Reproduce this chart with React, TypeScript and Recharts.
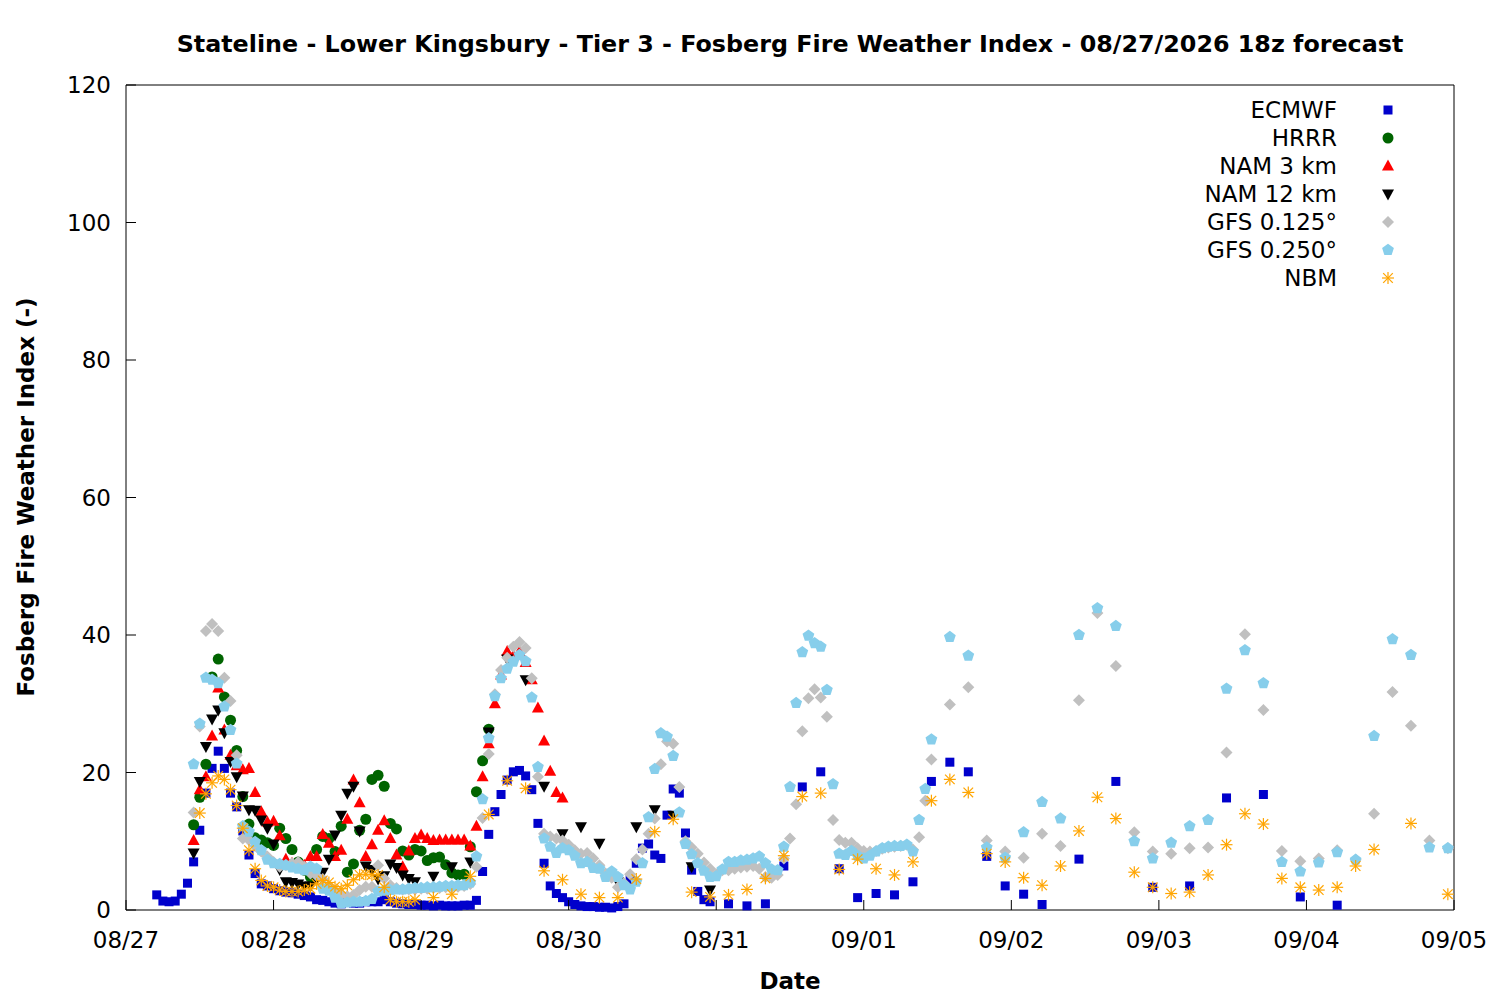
import React from "react";
import { ScatterChart, Scatter, XAxis, YAxis } from "recharts";

// hours counted from 08/27 00 local, value = Fosberg index
const dayLabels = ["08/27", "08/28", "08/29", "08/30", "08/31", "09/01", "09/02", "09/03", "09/04", "09/05"];
const xTicks = dayLabels.map((_, i) => i * 24);
const yTicks = [0, 20, 40, 60, 80, 100, 120];

const ecmwf: [number, number][] = [
	[5, 2.2], [6, 1.3], [7, 1.2], [8, 1.3], [9, 2.3], [10, 3.9], [11, 7.0], [12, 11.6], [13, 17.0], [14, 20.6],
	[15, 23.1], [16, 20.6], [17, 17.0], [18, 15.0], [19, 11.5], [20, 8.0], [21, 5.3], [22, 3.8], [23, 3.5], [24, 3.1],
	[25, 2.8], [26, 2.6], [27, 2.5], [28, 2.3], [29, 2.1], [30, 1.9], [31, 1.5], [32, 1.4], [33, 1.2], [34, 1.0],
	[35, 0.9], [36, 1.1], [37, 1.0], [38, 1.0], [39, 1.2], [40, 1.2], [41, 1.2], [42, 1.5], [43, 1.2], [44, 1.0],
	[45, 0.9], [46, 0.8], [47, 0.8], [48, 0.7], [49, 0.7], [50, 0.6], [51, 0.7], [52, 0.6], [53, 0.6], [54, 0.6],
	[55, 0.7], [56, 0.7], [57, 1.4], [58, 5.6], [59, 11.0], [60, 14.3], [61, 16.8], [62, 18.9], [63, 20.1], [64, 20.3],
	[65, 19.5], [66, 17.5], [67, 12.6], [68, 6.8], [69, 3.5], [70, 2.4], [71, 1.8], [72, 1.2], [73, 0.8], [74, 0.6],
	[75, 0.5], [76, 0.5], [77, 0.4], [78, 0.4], [79, 0.3], [80, 0.5], [81, 0.9], [82, 4.4], [83, 6.8], [84, 9.0],
	[85, 9.6], [86, 8.0], [87, 7.5], [88, 13.8], [89, 17.6], [90, 17.0], [91, 11.2], [92, 5.8], [93, 2.7], [94, 1.5],
	[95, 1.2], [98, 0.9], [101, 0.6], [104, 0.9], [107, 6.4], [110, 17.9], [113, 20.1], [116, 6.0], [119, 1.8], [122, 2.4],
	[125, 2.2], [128, 4.1], [131, 18.7], [134, 21.5], [137, 20.1], [140, 7.8], [143, 3.5], [146, 2.3], [149, 0.8], [155, 7.4],
	[161, 18.7], [167, 3.3], [173, 3.5], [179, 16.3], [185, 16.8], [191, 1.9], [197, 0.7],
];

const hrrr: [number, number][] = [
	[11, 12.4], [12, 16.4], [13, 21.2], [14, 33.9], [15, 36.5], [16, 31.0], [17, 27.6], [18, 23.2], [19, 16.5], [20, 12.5],
	[21, 10.5], [22, 10.2], [23, 9.8], [24, 9.4], [25, 11.9], [26, 10.4], [27, 8.8], [28, 7.0], [29, 5.8], [30, 4.8],
	[31, 8.8], [32, 10.7], [33, 10.4], [34, 8.5], [35, 12.2], [36, 5.5], [37, 6.7], [38, 11.6], [39, 13.2], [40, 19.0],
	[41, 19.6], [42, 18.0], [43, 12.6], [44, 11.8], [45, 8.6], [46, 8.0], [47, 8.8], [48, 8.6], [49, 7.2], [50, 7.6],
	[51, 7.7], [52, 6.6], [53, 5.4], [54, 5.1], [55, 5.2], [56, 9.2], [57, 17.2], [58, 21.7], [59, 26.3],
];

const nam3: [number, number][] = [
	[11, 10.1], [12, 17.5], [13, 19.4], [14, 25.3], [15, 32.3], [16, 26.2], [17, 22.5], [18, 21.0], [19, 20.4], [20, 20.6],
	[21, 17.1], [22, 14.3], [23, 12.8], [24, 12.9], [25, 10.8], [26, 7.4], [27, 6.8], [28, 6.5], [29, 6.5], [30, 7.8],
	[31, 7.8], [32, 11.0], [33, 9.7], [34, 7.8], [35, 8.7], [36, 13.2], [37, 18.9], [38, 15.6], [39, 7.8], [40, 9.5],
	[41, 11.6], [42, 13.0], [43, 10.4], [44, 8.0], [45, 6.3], [46, 8.6], [47, 10.4], [48, 10.9], [49, 10.4], [50, 10.1],
	[51, 10.2], [52, 10.2], [53, 10.2], [54, 10.2], [55, 10.2], [56, 9.3], [57, 12.2], [58, 19.4], [59, 24.2], [60, 30.0],
	[61, 34.2], [62, 37.6], [63, 37.0], [64, 37.6], [65, 36.0], [66, 33.5], [67, 29.4], [68, 24.6], [69, 20.2], [70, 17.1],
	[71, 16.3],
];

const nam12: [number, number][] = [
	[11, 8.3], [12, 18.7], [13, 23.8], [14, 27.8], [15, 29.1], [16, 25.8], [17, 21.6], [18, 19.4], [19, 16.6], [20, 14.6],
	[21, 14.5], [22, 13.1], [23, 11.9], [24, 9.6], [25, 5.9], [26, 4.1], [27, 4.0], [28, 3.8], [29, 3.5], [30, 3.5],
	[31, 4.5], [32, 5.5], [33, 7.4], [34, 10.9], [35, 13.8], [36, 17.0], [37, 18.0], [38, 11.5], [39, 6.4], [40, 5.9],
	[41, 4.5], [42, 5.0], [43, 6.7], [44, 6.2], [45, 5.1], [46, 4.6], [47, 4.1], [50, 4.9], [53, 6.3], [56, 7.0],
	[59, 25.9], [62, 36.5], [65, 33.5], [68, 18.0], [71, 11.1], [74, 12.1], [77, 9.7], [80, 4.1], [83, 12.1], [86, 14.6],
	[89, 13.8], [92, 6.3], [95, 2.9],
];

const gfs125: [number, number][] = [
	[11, 14.2], [12, 26.7], [13, 40.6], [14, 41.6], [15, 40.6], [16, 33.8], [17, 30.4], [18, 22.5], [19, 10.4], [20, 10.2],
	[21, 9.3], [22, 8.5], [23, 7.8], [24, 7.0], [25, 6.3], [26, 6.5], [27, 6.8], [28, 7.0], [29, 6.3], [30, 5.3],
	[31, 5.0], [32, 4.5], [33, 3.5], [34, 2.8], [35, 2.2], [36, 2.0], [37, 2.2], [38, 2.9], [39, 3.4], [40, 3.4],
	[41, 6.5], [42, 4.6], [43, 3.6], [44, 3.2], [45, 3.0], [46, 3.0], [47, 3.0], [48, 3.1], [49, 3.1], [50, 3.2],
	[51, 3.2], [52, 3.3], [53, 3.3], [54, 3.4], [55, 3.5], [56, 3.8], [57, 6.3], [58, 13.4], [59, 22.7], [60, 31.4],
	[61, 34.9], [62, 36.7], [63, 38.3], [64, 39.0], [65, 38.1], [66, 33.7], [67, 19.4], [68, 11.1], [69, 10.7], [70, 10.4],
	[71, 10.1], [72, 9.5], [73, 8.7], [74, 8.2], [75, 8.3], [76, 7.5], [77, 6.5], [78, 5.3], [79, 4.7], [80, 3.3],
	[81, 3.9], [82, 5.2], [83, 7.4], [84, 8.8], [85, 11.1], [86, 13.3], [87, 21.2], [88, 24.5], [89, 24.2], [90, 17.9],
	[91, 10.0], [92, 9.1], [93, 8.2], [94, 6.9], [95, 6.0], [96, 5.2], [97, 5.8], [98, 5.8], [99, 6.0], [100, 6.2],
	[101, 6.3], [102, 6.4], [103, 6.0], [104, 4.8], [105, 4.7], [106, 5.1], [107, 7.5], [108, 10.4], [109, 15.4], [110, 26.0],
	[111, 30.8], [112, 32.1], [113, 30.9], [114, 28.1], [115, 13.1], [116, 10.2], [117, 9.8], [118, 9.8], [119, 9.0], [120, 8.6],
	[121, 8.5], [122, 8.6], [123, 8.9], [124, 9.1], [125, 9.2], [126, 9.3], [127, 9.5], [128, 8.8], [129, 10.6], [130, 15.9],
	[131, 21.9], [134, 29.9], [137, 32.4], [140, 10.1], [143, 8.5], [146, 7.6], [149, 11.1], [152, 9.3], [155, 30.5], [158, 43.2],
	[161, 35.5], [164, 11.3], [167, 8.5], [170, 8.2], [173, 9.0], [176, 9.1], [179, 22.9], [182, 40.1], [185, 29.1], [188, 8.6],
	[191, 7.1], [194, 7.5], [197, 8.7], [200, 7.3], [203, 14.0], [206, 31.7], [209, 26.8], [212, 10.1], [215, 9.0],
];

const gfs250: [number, number][] = [
	[11, 21.2], [12, 27.1], [13, 33.8], [14, 33.5], [15, 33.0], [16, 29.6], [17, 26.2], [18, 21.3], [19, 12.2], [20, 11.4],
	[21, 9.9], [22, 8.7], [23, 7.3], [24, 6.8], [25, 6.7], [26, 6.5], [27, 6.2], [28, 6.0], [29, 5.8], [30, 6.3],
	[31, 6.0], [32, 3.1], [33, 2.8], [34, 1.8], [35, 1.0], [36, 1.1], [37, 1.2], [38, 1.2], [39, 1.3], [40, 1.6],
	[41, 2.7], [42, 2.8], [43, 2.9], [44, 3.0], [45, 3.0], [46, 3.1], [47, 3.2], [48, 3.2], [49, 3.3], [50, 3.3],
	[51, 3.4], [52, 3.5], [53, 3.5], [54, 3.6], [55, 3.6], [56, 4.0], [57, 7.8], [58, 16.1], [59, 25.0], [60, 31.1],
	[61, 33.7], [62, 35.1], [63, 36.1], [64, 37.1], [65, 36.2], [66, 30.9], [67, 20.8], [68, 10.4], [69, 9.2], [70, 8.3],
	[71, 9.0], [72, 8.7], [73, 7.9], [74, 6.8], [75, 7.0], [76, 6.1], [77, 6.0], [78, 4.8], [79, 5.6], [80, 4.8],
	[81, 3.6], [82, 3.0], [83, 4.1], [84, 6.8], [85, 13.5], [86, 20.5], [87, 25.7], [88, 25.2], [89, 22.4], [90, 14.2],
	[91, 9.6], [92, 8.1], [93, 6.8], [94, 5.7], [95, 4.8], [96, 4.9], [97, 5.9], [98, 7.0], [99, 7.0], [100, 7.2],
	[101, 7.3], [102, 7.5], [103, 7.8], [104, 6.8], [105, 5.9], [106, 5.8], [107, 9.2], [108, 17.9], [109, 30.1], [110, 37.5],
	[111, 39.9], [112, 38.8], [113, 38.3], [114, 32.0], [115, 18.3], [116, 8.2], [117, 8.0], [118, 8.6], [119, 7.9], [120, 7.5],
	[121, 7.9], [122, 8.5], [123, 9.0], [124, 9.2], [125, 9.3], [126, 9.3], [127, 9.5], [128, 8.5], [129, 13.1], [130, 17.6],
	[131, 24.8], [134, 39.7], [137, 37.0], [140, 9.1], [143, 7.6], [146, 11.3], [149, 15.7], [152, 13.3], [155, 40.0], [158, 43.9],
	[161, 41.3], [164, 10.0], [167, 7.5], [170, 9.8], [173, 12.2], [176, 13.1], [179, 32.2], [182, 37.8], [185, 33.0], [188, 7.0],
	[191, 5.6], [194, 6.9], [197, 8.4], [200, 7.3], [203, 25.3], [206, 39.4], [209, 37.1], [212, 9.1], [215, 9.0],
];

const nbm: [number, number][] = [
	[12, 14.1], [13, 16.9], [14, 18.5], [15, 19.5], [16, 19.0], [17, 17.5], [18, 15.2], [19, 11.9], [20, 8.7], [21, 6.0],
	[22, 4.3], [23, 3.5], [24, 3.3], [25, 2.9], [26, 2.7], [27, 2.7], [28, 2.7], [29, 2.9], [30, 3.1], [31, 3.8],
	[32, 4.3], [33, 4.0], [34, 3.4], [35, 3.1], [36, 3.6], [37, 4.4], [38, 5.1], [39, 5.2], [40, 5.1], [41, 5.1],
	[42, 3.3], [43, 1.5], [44, 1.2], [45, 1.2], [46, 1.2], [47, 1.5], [50, 1.8], [53, 2.3], [56, 4.9], [59, 13.9],
	[62, 18.8], [65, 17.7], [68, 5.7], [71, 4.4], [74, 2.3], [77, 1.8], [80, 1.8], [83, 4.5], [86, 11.4], [89, 13.2],
	[92, 2.6], [95, 1.9], [98, 2.2], [101, 3.0], [104, 4.6], [107, 7.9], [110, 16.5], [113, 17.0], [116, 5.9], [119, 7.4],
	[122, 6.0], [125, 5.1], [128, 7.0], [131, 15.9], [134, 19.0], [137, 17.1], [140, 8.2], [143, 7.0], [146, 4.7], [149, 3.6],
	[152, 6.4], [155, 11.5], [158, 16.4], [161, 13.3], [164, 5.5], [167, 3.3], [170, 2.4], [173, 2.6], [176, 5.1], [179, 9.5],
	[182, 14.0], [185, 12.5], [188, 4.6], [191, 3.3], [194, 2.9], [197, 3.3], [200, 6.4], [203, 8.8], [209, 12.6], [215, 2.3],
];

const FONT = "'DejaVu Sans', Verdana, sans-serif";

type Kind = "square" | "circle" | "up" | "down" | "diamond" | "pentagon" | "star";

const Marker = ({ cx, cy, kind, color }: { cx: number; cy: number; kind: Kind; color: string }) => {
	if (cx == null || cy == null) return null;
	switch (kind) {
		case "square":
			return <rect x={cx - 4.5} y={cy - 4.5} width={9} height={9} fill={color} />;
		case "circle":
			return <circle cx={cx} cy={cy} r={5.5} fill={color} />;
		case "up":
			return <polygon points={`${cx},${cy - 6.5} ${cx + 6},${cy + 4.5} ${cx - 6},${cy + 4.5}`} fill={color} />;
		case "down":
			return <polygon points={`${cx},${cy + 6.5} ${cx + 6},${cy - 4.5} ${cx - 6},${cy - 4.5}`} fill={color} />;
		case "diamond":
			return <polygon points={`${cx},${cy - 6} ${cx + 6},${cy} ${cx},${cy + 6} ${cx - 6},${cy}`} fill={color} />;
		case "pentagon": {
			const pts = [0, 1, 2, 3, 4]
				.map((i) => {
					const a = -Math.PI / 2 + (i * 2 * Math.PI) / 5;
					return `${cx + 6.2 * Math.cos(a)},${cy + 6.2 * Math.sin(a)}`;
				})
				.join(" ");
			return <polygon points={pts} fill={color} />;
		}
		default: {
			const r = 6;
			const d = r * 0.8;
			return (
				<g stroke={color} strokeWidth={1.2}>
					<line x1={cx - r} y1={cy} x2={cx + r} y2={cy} />
					<line x1={cx} y1={cy - r} x2={cx} y2={cy + r} />
					<line x1={cx - d} y1={cy - d} x2={cx + d} y2={cy + d} />
					<line x1={cx - d} y1={cy + d} x2={cx + d} y2={cy - d} />
				</g>
			);
		}
	}
};

const series: { name: string; data: [number, number][]; kind: Kind; color: string }[] = [
	{ name: "ECMWF", data: ecmwf, kind: "square", color: "#0000cc" },
	{ name: "HRRR", data: hrrr, kind: "circle", color: "#006400" },
	{ name: "NAM 3 km", data: nam3, kind: "up", color: "#ff0000" },
	{ name: "NAM 12 km", data: nam12, kind: "down", color: "#000000" },
	{ name: "GFS 0.125°", data: gfs125, kind: "diamond", color: "#c0c0c0" },
	{ name: "GFS 0.250°", data: gfs250, kind: "pentagon", color: "#87ceeb" },
	{ name: "NBM", data: nbm, kind: "star", color: "#ffa500" },
];

const BottomTick = (p: any) => (
	<g>
		<line x1={p.x} y1={p.y} x2={p.x} y2={p.y - 10} stroke="#000" />
		<text x={p.x} y={p.y + 38} textAnchor="middle" fontSize={23} fontFamily={FONT} fill="#000">
			{dayLabels[Math.round(p.payload.value / 24)]}
		</text>
	</g>
);
const TopTick = (p: any) => <line x1={p.x} y1={p.y} x2={p.x} y2={p.y + 10} stroke="#000" />;
const LeftTick = (p: any) => (
	<g>
		<line x1={p.x} y1={p.y} x2={p.x + 10} y2={p.y} stroke="#000" />
		<text x={p.x - 15} y={p.y + 8} textAnchor="end" fontSize={23} fontFamily={FONT} fill="#000">
			{p.payload.value}
		</text>
	</g>
);
const RightTick = (p: any) => <line x1={p.x} y1={p.y} x2={p.x - 10} y2={p.y} stroke="#000" />;

export default function App() {
	return (
		<div style={{ position: "absolute", left: 0, top: 0, width: 1500, height: 1000, background: "#fff" }}>
			<ScatterChart width={1500} height={1000} margin={{ top: 84, right: 45, bottom: 50, left: 66 }}>
				<XAxis
					xAxisId="b"
					type="number"
					dataKey="h"
					domain={[0, 216]}
					ticks={xTicks}
					height={40}
					tickSize={0}
					tickMargin={0}
					tick={BottomTick}
					axisLine={{ stroke: "#000" }}
					tickLine={false}
					interval={0}
				/>
				<XAxis
					xAxisId="t"
					orientation="top"
					type="number"
					dataKey="h"
					domain={[0, 216]}
					ticks={xTicks}
					height={1}
					tickSize={0}
					tickMargin={0}
					tick={TopTick}
					axisLine={{ stroke: "#000" }}
					tickLine={false}
					interval={0}
				/>
				<YAxis
					yAxisId="l"
					type="number"
					dataKey="v"
					domain={[0, 120]}
					ticks={yTicks}
					width={60}
					tickSize={0}
					tickMargin={0}
					tick={LeftTick}
					axisLine={{ stroke: "#000" }}
					tickLine={false}
					interval={0}
				/>
				<YAxis
					yAxisId="r"
					orientation="right"
					type="number"
					dataKey="v"
					domain={[0, 120]}
					ticks={yTicks}
					width={1}
					tickSize={0}
					tickMargin={0}
					tick={RightTick}
					axisLine={{ stroke: "#000" }}
					tickLine={false}
					interval={0}
				/>
				{series.map((s) => (
					<Scatter
						key={s.name}
						name={s.name}
						xAxisId="b"
						yAxisId="l"
						data={s.data.map(([h, v]) => ({ h, v }))}
						isAnimationActive={false}
						shape={(p: any) => <Marker cx={p.cx} cy={p.cy} kind={s.kind} color={s.color} />}
					/>
				))}
			</ScatterChart>
			<svg
				width={1500}
				height={1000}
				style={{ position: "absolute", left: 0, top: 0, pointerEvents: "none" }}
				fontFamily={FONT}
			>
				<text x={790} y={52} textAnchor="middle" fontSize={23.8} fontWeight="bold">
					Stateline - Lower Kingsbury - Tier 3 - Fosberg Fire Weather Index - 08/27/2026 18z forecast
				</text>
				<text x={790} y={989} textAnchor="middle" fontSize={23} fontWeight="bold">
					Date
				</text>
				<text
					x={0}
					y={0}
					transform="translate(34,497) rotate(-90)"
					textAnchor="middle"
					fontSize={23}
					fontWeight="bold"
				>
					Fosberg Fire Weather Index (-)
				</text>
				{series.map((s, i) => (
					<g key={s.name}>
						<text x={1337} y={110 + i * 28 + 8.3} textAnchor="end" fontSize={23}>
							{s.name}
						</text>
						<Marker cx={1388} cy={110 + i * 28} kind={s.kind} color={s.color} />
					</g>
				))}
			</svg>
		</div>
	);
}
